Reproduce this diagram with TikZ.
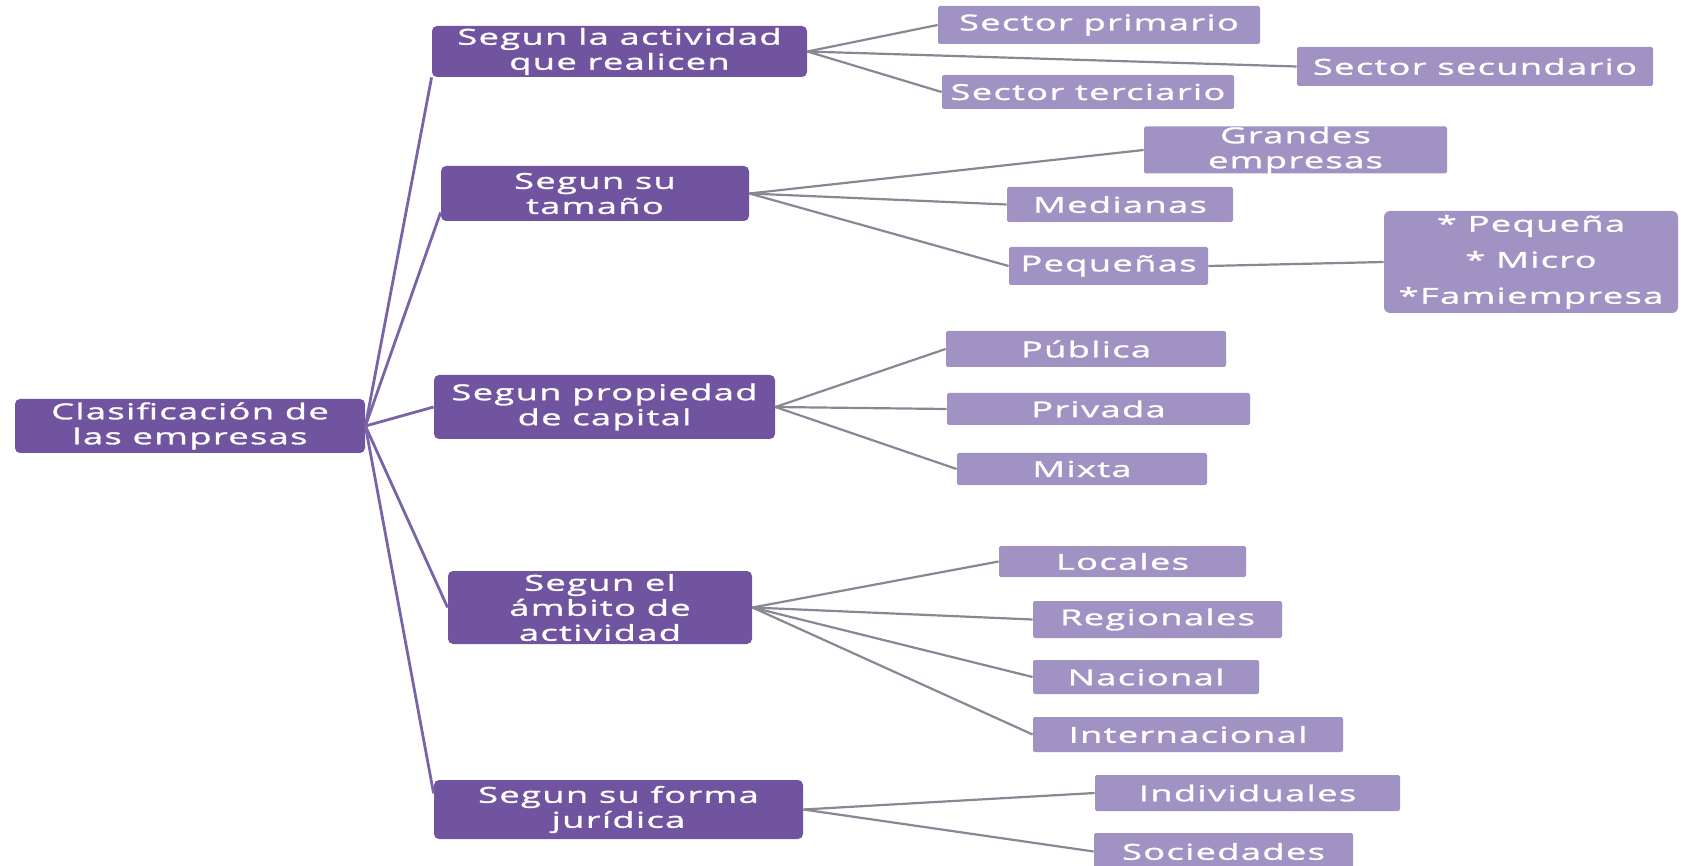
\documentclass[tikz,border=0pt]{standalone}
\usepackage{fontspec}
\setmainfont[FakeStretch=1.65,LetterSpace=6,FakeBold=1.3]{Open Sans}
\usepackage{xcolor}
\definecolor{darkviolet}{RGB}{112, 84, 160}
\definecolor{lightviolet}{RGB}{160, 146, 194}
\definecolor{trunkline}{RGB}{122, 100, 168}
\definecolor{branchline}{RGB}{138, 134, 148}
\usepackage{tikz}
\tikzstyle{head} = [rectangle, fill=darkviolet, text=white, align=center, rounded corners=2.5pt, inner sep=0pt, font=\fontsize{11}{12.5}\selectfont]
\tikzstyle{leaf} = [rectangle, fill=lightviolet, text=white, align=center, rounded corners=0.8pt, inner sep=0pt, font=\fontsize{11}{12.5}\selectfont]
\tikzstyle{trunk} = [line width=1.4pt, draw=trunkline]
\tikzstyle{branch} = [line width=1.1pt, draw=branchline]

\begin{document}
\begin{tikzpicture}[x=0.5pt, y=-0.5pt]
    \useasboundingbox (0,0) rectangle (1683,866);

    % root and the five criteria
    \node[head, minimum width=175pt, minimum height=27pt] (root) at (190,426) {Clasificación de\\las empresas};
    \node[head, minimum width=187.5pt, minimum height=25.5pt] (act) at (619.5,51.5) {Segun la actividad\\que realicen};
    \node[head, minimum width=154pt, minimum height=27.5pt] (size) at (595,193.5) {Segun su\\tamaño};
    \node[head, minimum width=170.5pt, minimum height=32pt] (cap) at (604.5,407) {Segun propiedad\\de capital};
    \node[head, minimum width=152pt, minimum height=36.5pt] (amb) at (600,607.5) {Segun el\\ámbito de\\actividad};
    \node[head, minimum width=184.5pt, minimum height=29.5pt] (jur) at (618.5,809.5) {Segun su forma\\jurídica};

    % leaves
    \node[leaf, minimum width=161pt, minimum height=19pt] (prim) at (1099,25) {Sector primario};
    \node[leaf, minimum width=178pt, minimum height=19.5pt] (sec) at (1475,66.5) {Sector secundario};
    \node[leaf, minimum width=146pt, minimum height=17pt] (ter) at (1088,92) {Sector terciario};

    \node[leaf, minimum width=151.5pt, minimum height=23pt] (big) at (1295.5,150) {Grandes\\empresas};
    \node[leaf, minimum width=113pt, minimum height=17.5pt] (mid) at (1120,204.5) {Medianas};
    \node[leaf, minimum width=99.5pt, minimum height=19pt] (small) at (1108.5,266) {Pequeñas};
    \node[leaf, rounded corners=3pt, minimum width=147pt, minimum height=51pt, font=\fontsize{11}{18}\selectfont] (kinds) at (1531,262) {* Pequeña\\* Micro\\*Famiempresa};

    \node[leaf, minimum width=140pt, minimum height=18pt] (pub) at (1086,349) {Pública};
    \node[leaf, minimum width=151.5pt, minimum height=16pt] (priv) at (1098.5,409) {Privada};
    \node[leaf, minimum width=125pt, minimum height=16pt] (mix) at (1082,469) {Mixta};

    \node[leaf, minimum width=123.5pt, minimum height=15.5pt] (loc) at (1122.5,561.5) {Locales};
    \node[leaf, minimum width=124.5pt, minimum height=18.5pt] (reg) at (1157.5,619.5) {Regionales};
    \node[leaf, minimum width=113pt, minimum height=17pt] (nac) at (1146,677) {Nacional};
    \node[leaf, minimum width=155pt, minimum height=17.5pt] (int) at (1188,734.5) {Internacional};

    \node[leaf, minimum width=152.5pt, minimum height=18pt] (ind) at (1247.5,793) {Individuales};
    \node[leaf, minimum width=129.5pt, minimum height=18.5pt] (soc) at (1223.5,851.5) {Sociedades};

    % connectors
    \draw[trunk] (root.east) -- (act.south west);
    \draw[trunk] (root.east) -- (size.187);
    \draw[trunk] (root.east) -- (cap.west);
    \draw[trunk] (root.east) -- (amb.west);
    \draw[trunk] (root.east) -- (jur.175);

    \draw[branch] (act.east) -- (prim.west);
    \draw[branch] (act.east) -- (sec.west);
    \draw[branch] (act.east) -- (ter.west);

    \draw[branch] (size.east) -- (big.west);
    \draw[branch] (size.east) -- (mid.west);
    \draw[branch] (size.east) -- (small.west);
    \draw[branch] (small.east) -- (kinds.west);

    \draw[branch] (cap.east) -- (pub.west);
    \draw[branch] (cap.east) -- (priv.west);
    \draw[branch] (cap.east) -- (mix.west);

    \draw[branch] (amb.east) -- (loc.west);
    \draw[branch] (amb.east) -- (reg.west);
    \draw[branch] (amb.east) -- (nac.west);
    \draw[branch] (amb.east) -- (int.west);

    \draw[branch] (jur.east) -- (ind.west);
    \draw[branch] (jur.east) -- (soc.west);
\end{tikzpicture}
\end{document}
